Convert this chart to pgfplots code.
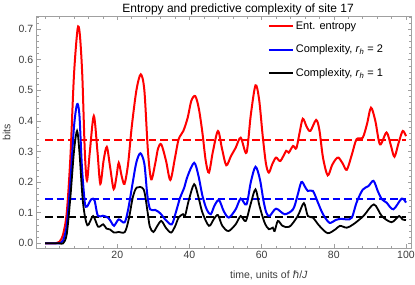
\documentclass[border=0pt]{standalone}
\usepackage{fontspec}
\setmainfont{Liberation Sans}
\newfontfamily\dejavu{DejaVu Sans}
\usepackage{pgfplots}
\pgfplotsset{compat=1.18}
\definecolor{framegray}{RGB}{160,160,160}
\definecolor{labgray}{RGB}{60,60,60}
\begin{document}
\begin{tikzpicture}
\path[use as bounding box] (0,0) rectangle (415pt,284pt);
\begin{axis}[
  at={(36.7pt,36pt)}, anchor=south west,
  scale only axis, width=375pt, height=231.5pt,
  xmin=-2.33, xmax=101.58, ymin=-0.0154, ymax=0.741,
  axis line style={framegray, line width=0.6pt},
  every tick/.style={framegray, line width=0.5pt},
  tick align=inside,
  major tick length=4pt, minor tick length=2.5pt,
  xtick={20,40,60,80,100},
  minor xtick={0,4,...,100},
  ytick={0,0.1,...,0.71},
  minor ytick={0,0.02,...,0.74},
  xtick pos=both, ytick pos=both,
  xticklabel pos=lower, yticklabel pos=left,
  tick label style={font=\fontsize{10.5}{12}\selectfont, text=labgray},
  /pgf/number format/assume math mode=true,
  yticklabel style={/pgf/number format/.cd, fixed, fixed zerofill, precision=1},
  title={Entropy and predictive complexity of site 17},
  title style={at={(axis description cs:0.537,1)}, anchor=base, yshift=-2.2pt, font=\fontsize{12}{14}\selectfont},
  xlabel={time, units of {\dejavu\itshape ℏ}/\textit{J}},
  xlabel style={at={(axis description cs:0.619,0)}, anchor=base, yshift=-30.5pt, font=\fontsize{10.5}{12}\selectfont, text=labgray},
  ylabel={bits},
  ylabel style={at={(axis description cs:-0.08,0.5)}, anchor=center, font=\fontsize{10.5}{12}\selectfont, text=labgray},
  legend style={draw=none, fill=none, at={(axis description cs:0.608,0.995)}, anchor=north west, font=\fontsize{11}{13}\selectfont, row sep=10pt},
  legend cell align=left,
  legend image code/.code={\draw[#1] (0pt,0pt) -- (24pt,0pt);},
]
\addplot[red, line width=1.8pt, dash pattern=on 7.5pt off 4pt, forget plot] coordinates {(0,0.337)(100,0.337)};
\addplot[blue, line width=1.8pt, dash pattern=on 7.5pt off 4pt, forget plot] coordinates {(0,0.145)(100,0.145)};
\addplot[black, line width=1.8pt, dash pattern=on 7.5pt off 4pt, forget plot] coordinates {(0,0.087)(100,0.087)};
\addplot[red, line width=2pt, smooth, tension=0.5, forget plot] coordinates {
(0,0)(1,0)(2,0)(3,0)(4,0.005)(5,0.03)(6,0.1)(7,0.28)(8,0.55)(9,0.70)(9.6,0.685)(10.3,0.55)(11,0.3)(11.6,0.205)(12.4,0.3)(13.5,0.416)(14.5,0.3)(15.3,0.194)(16.2,0.27)(17.1,0.315)(18,0.25)(19,0.177)(19.8,0.22)(20.4,0.263)(21.2,0.22)(22,0.194)(23,0.26)(24,0.38)(25.3,0.5)(26.5,0.552)(27.5,0.5)(28.5,0.3)(29.4,0.209)(30.5,0.26)(31.3,0.31)(32.2,0.323)(33.5,0.27)(34.7,0.207)(36,0.28)(37,0.34)(38.3,0.367)(39.5,0.41)(40.5,0.465)(41.6,0.481)(42.6,0.44)(43.6,0.36)(44.5,0.27)(45.4,0.231)(46.5,0.3)(47.9,0.367)(49,0.31)(50.2,0.255)(51.5,0.285)(52.8,0.312)(54.2,0.345)(55.8,0.296)(57,0.42)(58.3,0.516)(59.3,0.47)(60.3,0.35)(61.2,0.26)(62,0.231)(63,0.26)(64,0.28)(65.2,0.269)(66.8,0.302)(67.5,0.296)(68.7,0.318)(69.6,0.31)(70.5,0.36)(71.4,0.407)(72.5,0.38)(73.5,0.367)(75.1,0.403)(76,0.37)(77,0.28)(78.3,0.222)(79.5,0.255)(80.5,0.274)(81.3,0.28)(82.5,0.26)(83.6,0.24)(85,0.29)(86.3,0.34)(88,0.345)(89.2,0.39)(90.3,0.443)(91.5,0.4)(92.8,0.323)(94.6,0.362)(95.8,0.32)(96.8,0.283)(98,0.33)(99.1,0.367)(100,0.35)
};
\addplot[blue, line width=2pt, smooth, tension=0.5, forget plot] coordinates {
(0,0)(1,0)(2,0)(3,0)(4,0)(5,0.01)(6,0.06)(7,0.2)(8,0.38)(8.85,0.454)(9.5,0.42)(10.2,0.25)(11,0.133)(11.6,0.12)(12.8,0.144)(13.7,0.14)(14.6,0.09)(16,0.09)(17.4,0.084)(18.3,0.07)(19.1,0.057)(20.4,0.078)(22,0.068)(23,0.11)(24.3,0.2)(25.3,0.265)(26.4,0.294)(27.5,0.26)(28.3,0.16)(29.1,0.111)(30.5,0.109)(31.9,0.098)(33.5,0.075)(35.1,0.062)(36.2,0.1)(37.4,0.149)(38.5,0.18)(39.5,0.22)(41.3,0.263)(42.5,0.22)(43.6,0.155)(44.8,0.11)(45.9,0.095)(47,0.125)(48.2,0.141)(49.5,0.105)(50.9,0.084)(52.8,0.111)(54.2,0.146)(55.8,0.127)(57,0.2)(58.3,0.25)(59.5,0.21)(60.5,0.14)(61.3,0.1)(62.2,0.089)(64,0.113)(66.4,0.095)(68.7,0.111)(69.8,0.15)(71,0.2)(72,0.185)(72.8,0.171)(74.2,0.171)(75.6,0.133)(77,0.095)(78.8,0.067)(80.5,0.076)(82,0.08)(83.6,0.078)(85,0.084)(86.3,0.133)(88,0.175)(89.6,0.187)(91,0.204)(92.2,0.17)(93.3,0.144)(94.6,0.133)(96.5,0.111)(98.8,0.146)(100,0.133)
};
\addplot[black, line width=1.8pt, smooth, tension=0.5, forget plot] coordinates {
(0,0)(1,0)(2,0)(3,0)(4,0)(5,0)(6,0.03)(7,0.15)(8,0.3)(8.85,0.367)(9.5,0.3)(10.5,0.133)(11.7,0.059)(13.3,0.089)(14.7,0.054)(16.1,0.062)(17,0.048)(18,0.045)(19.1,0.035)(20.4,0.037)(22.1,0.037)(23.2,0.08)(24.3,0.15)(25.4,0.182)(27.3,0.176)(28.3,0.11)(29,0.055)(30,0.037)(31,0.055)(32.2,0.073)(33.5,0.05)(34.9,0.035)(36,0.055)(37,0.084)(38.2,0.095)(38.8,0.091)(39.8,0.14)(41.3,0.193)(42.5,0.15)(43.6,0.1)(45.4,0.057)(46.8,0.08)(47.9,0.092)(49.1,0.057)(50.8,0.04)(52.8,0.062)(54.2,0.089)(55.6,0.073)(57,0.13)(58.3,0.176)(59.4,0.122)(60.8,0.068)(62,0.046)(63.1,0.051)(63.6,0.04)(64.5,0.073)(65.8,0.057)(67.7,0.054)(70,0.089)(71.7,0.131)(72.8,0.089)(74.2,0.084)(76,0.057)(78.3,0.033)(80.5,0.046)(81.7,0.057)(83.6,0.051)(85.4,0.062)(88.2,0.089)(91.1,0.127)(93.3,0.089)(96,0.069)(98.1,0.089)(99,0.078)(100,0.076)
};
\addlegendimage{red, line width=2pt}
\addlegendentry{Ent. entropy}
\addlegendimage{blue, line width=2pt}
\addlegendentry{Complexity, \textit{r}\textsubscript{\textit{h}} = 2}
\addlegendimage{black, line width=1.8pt}
\addlegendentry{Complexity, \textit{r}\textsubscript{\textit{h}} = 1}
\end{axis}
\end{tikzpicture}
\end{document}
